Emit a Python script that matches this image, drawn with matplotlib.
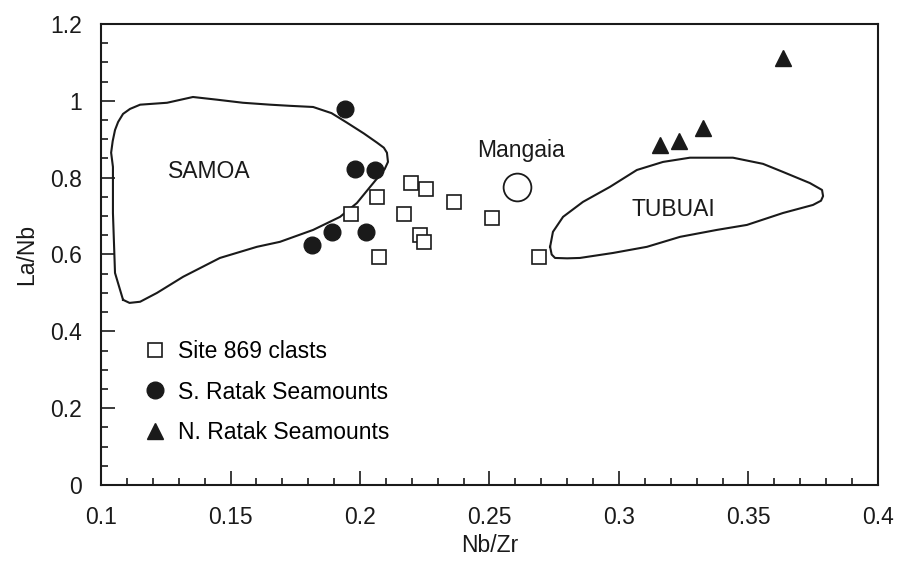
import matplotlib
matplotlib.use('Agg')
from matplotlib import pyplot as plt
from matplotlib.ticker import MultipleLocator, FormatStrFormatter

plt.rcParams['font.family'] = ['Liberation Sans', 'DejaVu Sans']

# Site 869 clasts
site_x = [0.2197, 0.2255, 0.2066, 0.1965, 0.2170, 0.2363, 0.2510, 0.2232, 0.2247, 0.2073, 0.2691]
site_y = [0.786, 0.771, 0.750, 0.706, 0.706, 0.737, 0.695, 0.651, 0.633, 0.594, 0.594]

# S. Ratak Seamounts
sr_x = [0.1942, 0.1981, 0.2058, 0.1892, 0.2023, 0.1815]
sr_y = [0.979, 0.823, 0.820, 0.659, 0.659, 0.625]

# N. Ratak Seamounts
nr_x = [0.3633, 0.3324, 0.3232, 0.3158]
nr_y = [1.112, 0.930, 0.896, 0.885]

# Mangaia
mangaia_x = 0.2606
mangaia_y = 0.776

# SAMOA field outline
samoa_x = [0.1085, 0.1054, 0.1046, 0.1046, 0.1039, 0.1045, 0.1054, 0.1066, 0.1085, 0.1112,
           0.1151, 0.1255, 0.1355, 0.1448, 0.1548, 0.1653, 0.1730, 0.1819, 0.1890, 0.1950,
           0.2015, 0.2066, 0.2092, 0.2104, 0.2108, 0.2095, 0.2077, 0.2039, 0.1988, 0.1923,
           0.1819, 0.1691, 0.1602, 0.1459, 0.1317, 0.1216, 0.1151, 0.1110, 0.1085]
samoa_y = [0.482, 0.552, 0.708, 0.828, 0.865, 0.895, 0.924, 0.945, 0.966, 0.979,
           0.990, 0.995, 1.010, 1.003, 0.995, 0.990, 0.987, 0.984, 0.968, 0.943,
           0.915, 0.891, 0.878, 0.865, 0.841, 0.822, 0.807, 0.776, 0.734, 0.698,
           0.664, 0.633, 0.620, 0.591, 0.542, 0.500, 0.477, 0.474, 0.482]

# TUBUAI field outline
tubuai_x = [0.2734, 0.2740, 0.2753, 0.2800, 0.2849, 0.2977, 0.3108, 0.3236, 0.3378, 0.3494,
            0.3633, 0.3749, 0.3780, 0.3788, 0.3784, 0.3737, 0.3633, 0.3556, 0.3440, 0.3274,
            0.3170, 0.3069, 0.2965, 0.2861, 0.2784, 0.2745, 0.2734]
tubuai_y = [0.620, 0.600, 0.591, 0.590, 0.591, 0.604, 0.620, 0.646, 0.664, 0.677,
            0.708, 0.729, 0.740, 0.752, 0.768, 0.786, 0.815, 0.836, 0.852, 0.852,
            0.841, 0.820, 0.776, 0.737, 0.698, 0.659, 0.620]

ink = '#1a1a1a'
fs = 16.5

fig = plt.figure(figsize=(8.98, 5.61), dpi=100)
ax = fig.add_axes([0.1125, 0.1355, 0.8652, 0.8217])

ax.plot(samoa_x, samoa_y, color=ink, linewidth=1.5)
ax.plot(tubuai_x, tubuai_y, color=ink, linewidth=1.5)

ax.plot(site_x, site_y, 's', markersize=10.5, markerfacecolor='white',
        markeredgecolor=ink, markeredgewidth=1.2, linestyle='none', label='Site 869 clasts')
ax.plot(sr_x, sr_y, 'o', markersize=12, color=ink, linestyle='none', label='S. Ratak Seamounts')
ax.plot(nr_x, nr_y, '^', markersize=12, color=ink, linestyle='none', label='N. Ratak Seamounts')
ax.plot([mangaia_x], [mangaia_y], 'o', markersize=20, markerfacecolor='white',
        markeredgecolor=ink, markeredgewidth=1.3)

ax.text(0.1417, 0.815, 'SAMOA', fontsize=fs, ha='center', va='center', color=ink)
ax.text(0.3209, 0.716, 'TUBUAI', fontsize=fs, ha='center', va='center', color=ink)
ax.text(0.262, 0.872, 'Mangaia', fontsize=fs, ha='center', va='center', color=ink)

ax.set_xlim(0.1, 0.4)
ax.set_ylim(0, 1.2)
ax.xaxis.set_major_locator(MultipleLocator(0.05))
ax.xaxis.set_minor_locator(MultipleLocator(0.01))
ax.yaxis.set_major_locator(MultipleLocator(0.2))
ax.yaxis.set_minor_locator(MultipleLocator(0.05))
ax.xaxis.set_major_formatter(FormatStrFormatter('%g'))
ax.yaxis.set_major_formatter(FormatStrFormatter('%g'))

ax.tick_params(which='both', direction='in', top=False, right=False, color=ink,
               labelsize=fs, labelcolor=ink, width=1.2)
ax.tick_params(which='major', length=10)
ax.tick_params(which='minor', length=5)
ax.tick_params(axis='x', which='major', pad=15)
ax.tick_params(axis='y', which='major', pad=14)
for s in ax.spines.values():
    s.set_linewidth(1.5)
    s.set_color(ink)

ax.set_xlabel('Nb/Zr', fontsize=fs, color=ink, labelpad=4)
ax.set_ylabel('La/Nb', fontsize=fs, color=ink, labelpad=8)

ax.legend(loc='center left', bbox_to_anchor=(0.052, 0.2017), frameon=False, fontsize=fs,
          labelspacing=0.77, handlelength=1.2, handletextpad=0.4, borderaxespad=0,
          borderpad=0, numpoints=1)

plt.savefig('out.png', dpi=100)
